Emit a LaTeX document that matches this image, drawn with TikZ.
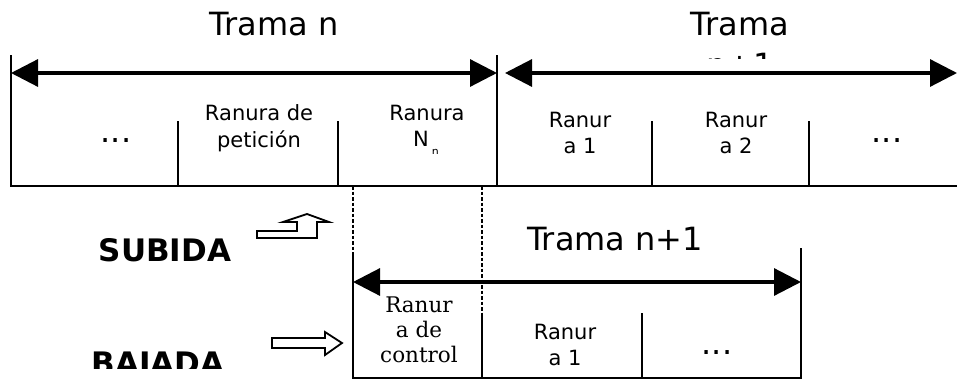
\documentclass[tikz,border=0pt]{standalone}
\usepackage{fontspec}
\newfontfamily\dv{DejaVu Sans}
\newfontfamily\dvs{DejaVu Serif}
\usetikzlibrary{arrows.meta}

\begin{document}
\begin{tikzpicture}[x=1pt,y=-1pt,
  frame/.style={line width=2.4pt},
  divider/.style={line width=1.8pt},
  span/.style={line width=3.2pt,
    {Triangle[length=27pt,width=27pt]}-{Triangle[length=27pt,width=27pt]}},
  guide/.style={line width=2.4pt, dash pattern=on 3.5pt off 2pt},
  title/.style={font=\dv\fontsize{32}{38}\selectfont, inner sep=0pt, anchor=base},
  slot/.style={font=\dv\fontsize{21}{27}\selectfont, inner sep=0pt, anchor=base},
  slotsm/.style={font=\dv\fontsize{21}{27}\selectfont, inner sep=0pt, anchor=base},
  serifslot/.style={font=\dvs\fontsize{21.5}{25}\selectfont, inner sep=0pt, anchor=base},
  dots/.style={font=\dv\fontsize{32}{38}\selectfont, inner sep=0pt, anchor=base},
  dir/.style={font=\dv\bfseries\fontsize{31}{38}\selectfont, inner sep=0pt, anchor=base},
  hollow/.style={line width=1.8pt, draw=black, fill=white, line join=miter}
]
\useasboundingbox (0,0) rectangle (957,380);

% ---------- upstream frame row ----------
\coordinate (ulTop) at (11,55);   \coordinate (ulBot) at (11,186);
\coordinate (urBot) at (957,186);
\coordinate (d1t) at (178,121);   \coordinate (d1b) at (178,186);
\coordinate (d2t) at (338,121);   \coordinate (d2b) at (338,186);
\coordinate (d3t) at (497,55);    \coordinate (d3b) at (497,186);
\coordinate (d4t) at (652,121);   \coordinate (d4b) at (652,186);
\coordinate (d5t) at (809,121);   \coordinate (d5b) at (809,186);
\coordinate (sAl) at (11,73);     \coordinate (sAr) at (497,73);
\coordinate (sBl) at (505,73);    \coordinate (sBr) at (957,73);

\draw[frame] (ulTop) -- (ulBot) -- (urBot);
\draw[divider] (d1t) -- (d1b);
\draw[divider] (d2t) -- (d2b);
\draw[divider] (d3t) -- (d3b);
\draw[divider] (d4t) -- (d4b);
\draw[divider] (d5t) -- (d5b);
\draw[span] (sAl) -- (sAr);
\draw[span] (sBl) -- (sBr);

\node[title] (tn) at (274,35) {Trama n};
\node[title] (tn1a) at (740,35) {Trama};
\begin{scope}
  \clip (600,40) rectangle (880,58);
  \node[title] (tn1b) at (740,76) {n+1};
\end{scope}

\node[dots] (u0) at (116,142) {...};
\node[slot] (u1a) at (259,120) {Ranura de};
\node[slot] (u1b) at (259,147) {petición};
\node[slot] (u2a) at (427,120) {Ranura};
\begin{scope}
  \clip (380,125) rectangle (480,153);
  \node[slot] (u2b) at (426,146) {N\hspace{3pt}\raisebox{-9pt}{\fontsize{11}{11}\selectfont n}};
\end{scope}
\node[slotsm] (u3a) at (580,127) {Ranur};
\node[slotsm] (u3b) at (580,153) {a 1};
\node[slotsm] (u4a) at (736,127) {Ranur};
\node[slotsm] (u4b) at (736,153) {a 2};
\node[dots] (u5) at (887,142) {...};

% ---------- alignment guides ----------
\coordinate (g1t) at (353,186);   \coordinate (g1b) at (353,255);
\coordinate (g2t) at (482,186);   \coordinate (g2b) at (482,315);
\draw[guide] (g1t) -- (g1b);
\draw[guide] (g2t) -- (g2b);

% ---------- downstream frame row ----------
\coordinate (blTop) at (353,255); \coordinate (blBot) at (353,378);
\coordinate (brBot) at (801,378); \coordinate (brTop) at (801,248);
\coordinate (e1t) at (482,315);   \coordinate (e1b) at (482,378);
\coordinate (e2t) at (642,313);   \coordinate (e2b) at (642,378);
\coordinate (sCl) at (353,282);   \coordinate (sCr) at (801,282);

\draw[frame] (blTop) -- (blBot) -- (brBot) -- (brTop);
\draw[divider] (e1t) -- (e1b);
\draw[divider] (e2t) -- (e2b);
\draw[span] (sCl) -- (sCr);

\node[title] (tdn) at (615,250) {Trama n+1};
\node[serifslot] (c1) at (419,312) {Ranur};
\node[serifslot] (c2) at (419,337) {a de};
\node[serifslot] (c3) at (419,362) {control};
\node[slotsm] (b1a) at (565,339) {Ranur};
\node[slotsm] (b1b) at (565,365) {a 1};
\node[dots] (b2) at (717,354) {...};

% ---------- direction labels and block arrows ----------
\node[dir] (up) at (165,261) {SUBIDA};
\begin{scope}
  \clip (60,330) rectangle (260,368);
  \node[dir] (down) at (158,374) {BAJADA};
\end{scope}

\draw[hollow] (257,231) -- (297,231) -- (297,222) -- (283,222) -- (307,214)
  -- (329,222) -- (317,222) -- (317,238) -- (257,238) -- cycle;
\draw[hollow] (272,338) -- (325,338) -- (325,332) -- (342,343)
  -- (325,355) -- (325,348) -- (272,348) -- cycle;
\end{tikzpicture}
\end{document}
